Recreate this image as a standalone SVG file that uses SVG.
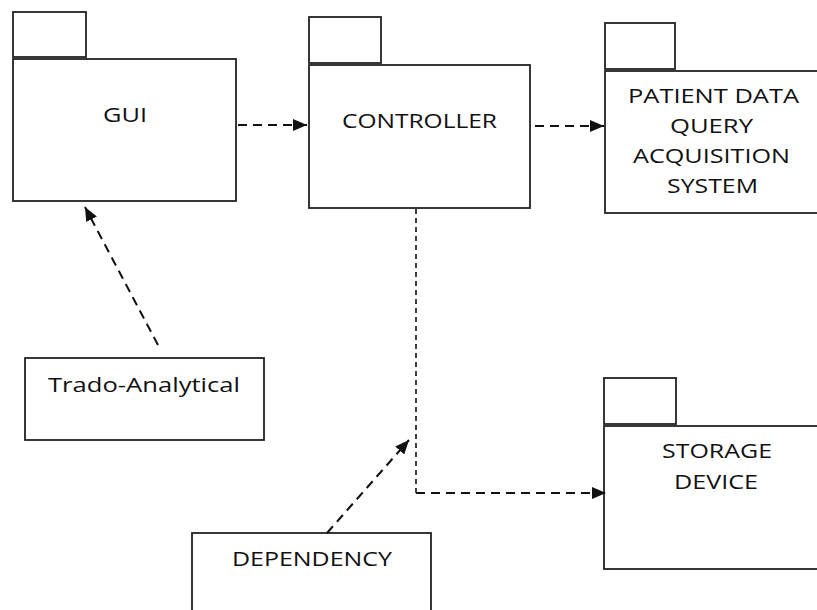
<svg xmlns="http://www.w3.org/2000/svg" width="817" height="610" viewBox="0 0 817 610">
<style>
.box{fill:#fff;stroke:#222;stroke-width:1.8}
.t{font-family:"Open Sans","Liberation Sans",sans-serif;font-size:20px;fill:#111}
.c{fill:none;stroke:#111;stroke-width:2;stroke-dasharray:9 6}
.c2{fill:none;stroke:#111;stroke-width:1.6;stroke-dasharray:5 4}
</style>
<defs>
<marker id="ah" viewBox="0 0 14 12" refX="14" refY="6" markerWidth="14" markerHeight="12" markerUnits="userSpaceOnUse" orient="auto">
<path d="M0,0 L14,6 L0,12 Z" fill="#111"/>
</marker>
</defs>
<rect width="817" height="610" fill="#fff"/>
<g id="gui">
<rect class="box" x="13" y="12" width="73" height="45"/>
<rect class="box" x="13" y="59" width="223" height="142"/>
<text class="t" x="103" y="122" textLength="44" lengthAdjust="spacingAndGlyphs">GUI</text>
</g>
<g id="controller">
<rect class="box" x="309" y="17" width="72" height="46"/>
<rect class="box" x="309" y="65" width="221" height="143"/>
<text class="t" x="342" y="128" textLength="155" lengthAdjust="spacingAndGlyphs">CONTROLLER</text>
</g>
<g id="patient">
<rect class="box" x="605" y="23" width="70" height="46"/>
<rect class="box" x="605" y="71" width="220" height="142"/>
<text class="t" x="628" y="103" textLength="171" lengthAdjust="spacingAndGlyphs">PATIENT DATA</text>
<text class="t" x="670" y="133" textLength="83" lengthAdjust="spacingAndGlyphs">QUERY</text>
<text class="t" x="633" y="163" textLength="157" lengthAdjust="spacingAndGlyphs">ACQUISITION</text>
<text class="t" x="667" y="193" textLength="91" lengthAdjust="spacingAndGlyphs">SYSTEM</text>
</g>
<g id="storage">
<rect class="box" x="604" y="378" width="72" height="46"/>
<rect class="box" x="604" y="426" width="221" height="143"/>
<text class="t" x="662" y="458" textLength="110" lengthAdjust="spacingAndGlyphs">STORAGE</text>
<text class="t" x="674" y="489" textLength="84" lengthAdjust="spacingAndGlyphs">DEVICE</text>
</g>
<g id="trado">
<rect class="box" x="25" y="358" width="239" height="82"/>
<text class="t" x="48" y="392" textLength="192" lengthAdjust="spacingAndGlyphs">Trado-Analytical</text>
</g>
<g id="dependency">
<rect class="box" x="192" y="533" width="239" height="90"/>
<text class="t" x="232" y="566" textLength="160" lengthAdjust="spacingAndGlyphs">DEPENDENCY</text>
</g>
<g id="connectors">
<line class="c" x1="238" y1="125" x2="307" y2="125" marker-end="url(#ah)"/>
<line class="c" x1="535" y1="126" x2="604" y2="126" marker-end="url(#ah)"/>
<line class="c2" x1="416" y1="209" x2="416" y2="493"/>
<line class="c" x1="416" y1="493" x2="606" y2="493" marker-end="url(#ah)"/>
<line class="c" x1="158" y1="345" x2="85" y2="207" marker-end="url(#ah)"/>
<line class="c" x1="327" y1="533" x2="409" y2="440" marker-end="url(#ah)"/>
</g>
</svg>
